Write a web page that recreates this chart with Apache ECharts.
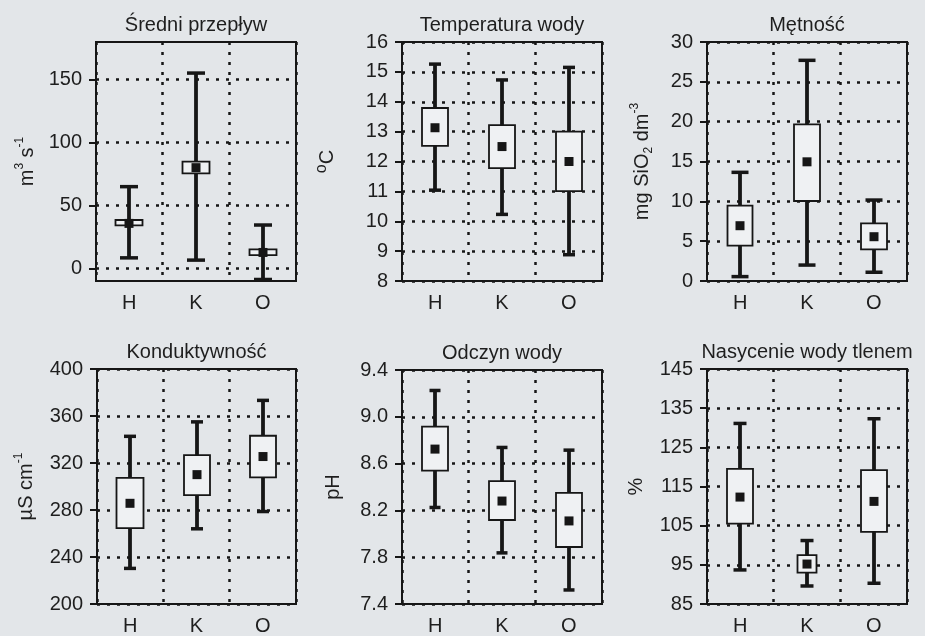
<!DOCTYPE html>
<html>
<head>
<meta charset="utf-8">
<script src="https://cdn.jsdelivr.net/npm/echarts@6/dist/echarts.min.js"></script>
<style>
  html, body { margin: 0; padding: 0; background: #e3e6e9; }
  #chart { width: 925px; height: 636px; }
</style>
</head>
<body>
<div id="chart"></div>
<script>
// Sampling stations
const stations = ['H', 'K', 'O'];

// Per station: [whisker low, box low, mean, box high, whisker high]
const flow         = [[8.4, 34.2, 35.8, 38.5, 65.0], [6.6, 75.6, 80.1, 84.9, 155.3], [-8.8, 10.6, 12.7, 15.1, 34.5]];
const temperature  = [[11.04, 12.52, 13.13, 13.79, 15.26], [10.23, 11.78, 12.50, 13.22, 14.73], [8.88, 11.01, 12.00, 13.00, 15.15]];
const turbidity    = [[0.55, 4.44, 6.94, 9.45, 13.64], [2.0, 10.04, 14.96, 19.65, 27.7], [1.1, 3.98, 5.56, 7.24, 10.16]];
const conductivity = [[230.3, 264.6, 285.7, 307.3, 342.7], [264.0, 292.7, 310.1, 326.7, 355.0], [278.7, 307.8, 325.5, 343.2, 373.3]];
const ph           = [[8.225, 8.54, 8.724, 8.916, 9.225], [7.837, 8.118, 8.28, 8.45, 8.738], [7.52, 7.887, 8.11, 8.35, 8.715]];
const oxygen       = [[93.7, 105.5, 112.3, 119.5, 131.1], [89.6, 93.0, 95.2, 97.5, 101.2], [90.3, 103.4, 111.2, 119.2, 132.3]];

// Panel titles
const titles = ['Średni przepływ', 'Temperatura wody', 'Mętność', 'Konduktywność', 'Odczyn wody', 'Nasycenie wody tlenem'];

// Value-axis ranges and tick labels
const flowRange = [-10, 180],  flowTicks = [0, 50, 100, 150];
const tempRange = [8, 16],     tempTicks = [8, 9, 10, 11, 12, 13, 14, 15, 16];
const turbRange = [0, 30],     turbTicks = [0, 5, 10, 15, 20, 25, 30];
const condRange = [200, 400],  condTicks = [200, 240, 280, 320, 360, 400];
const phRange   = [7.4, 9.4],  phTicks   = [7.4, 7.8, 8.2, 8.6, 9.0, 9.4];
const oxyRange  = [85, 145],   oxyTicks  = [85, 95, 105, 115, 125, 135, 145];

const FONT = "'Liberation Sans', Arial, Helvetica, sans-serif";
const INK = '#161616';
const TEXT = '#1e1e1e';

// Layout and styling of each panel (cap = half width of whisker ends, box = half widths of boxes)
const panels = [
  { data: flow,         range: flowRange, ticks: flowTicks, dec: 0,
    name: '{t|m}{s|3}{t| s}{s|-1}', gap: 56, grid: { left: 96, top: 42, width: 200, height: 239 }, cap: 9, box: [13.5, 13.5, 13.5] },
  { data: temperature,  range: tempRange, ticks: tempTicks, dec: 0,
    name: '{d|o}{t|C}', gap: 62, grid: { left: 402, top: 42, width: 200, height: 239 }, cap: 6, box: [13, 13, 13] },
  { data: turbidity,    range: turbRange, ticks: turbTicks, dec: 0,
    name: '{t|mg SiO}{b|2}{t| dm}{s|-3}', gap: 52, grid: { left: 707, top: 42, width: 200, height: 239 }, cap: 8.5, box: [12.5, 13, 13] },
  { data: conductivity, range: condRange, ticks: condTicks, dec: 0,
    name: '{t|µS cm}{s|-1}', gap: 58, grid: { left: 97, top: 369, width: 199, height: 237 }, cap: 6, box: [13.5, 13, 13] },
  { data: ph,           range: phRange,   ticks: phTicks,   dec: 1,
    name: '{t|pH}', gap: 56, grid: { left: 402, top: 370, width: 200, height: 237 }, cap: 5.5, box: [13, 13, 13] },
  { data: oxygen,       range: oxyRange,  ticks: oxyTicks,  dec: 0,
    name: '{t|%}', gap: 58, grid: { left: 707, top: 369, width: 200, height: 237 }, cap: 6.5, box: [13, 9.5, 13] }
];

const dotted = { color: INK, width: 2.5, type: [3, 7] };

function renderBox(capHalf, boxHalves) {
  return function (params, api) {
    const i = api.value(0);
    const lo = api.coord([i, api.value(1)]);
    const q1 = api.coord([i, api.value(2)]);
    const mean = api.coord([i, api.value(3)]);
    const q3 = api.coord([i, api.value(4)]);
    const hi = api.coord([i, api.value(5)]);
    const cx = Math.round(lo[0]);
    const boxHalf = boxHalves[params.dataIndex];
    const m = 4.5;
    return {
      type: 'group',
      children: [
        { type: 'line', shape: { x1: cx, y1: hi[1], x2: cx, y2: lo[1] }, style: { stroke: INK, lineWidth: 3.8 } },
        { type: 'line', shape: { x1: cx - capHalf, y1: hi[1], x2: cx + capHalf, y2: hi[1] }, style: { stroke: INK, lineWidth: 3.5 } },
        { type: 'line', shape: { x1: cx - capHalf, y1: lo[1], x2: cx + capHalf, y2: lo[1] }, style: { stroke: INK, lineWidth: 3.5 } },
        { type: 'rect', shape: { x: cx - boxHalf, y: q3[1], width: boxHalf * 2, height: q1[1] - q3[1] },
          style: { fill: '#eff1f3', stroke: INK, lineWidth: 1.8 } },
        { type: 'rect', shape: { x: cx - m, y: mean[1] - m, width: m * 2, height: m * 2 }, style: { fill: INK } }
      ]
    };
  };
}

const option = {
  backgroundColor: '#e3e6e9',
  animation: false,
  textStyle: { fontFamily: FONT },
  title: panels.map((p, k) => ({
    text: titles[k],
    left: p.grid.left + p.grid.width / 2,
    top: p.grid.top - 27,
    textAlign: 'center',
    padding: 0,
    textStyle: { fontFamily: FONT, fontSize: 20, fontWeight: 'normal', color: TEXT }
  })),
  grid: panels.map(p => Object.assign({ show: true, borderColor: INK, borderWidth: 2, backgroundColor: 'transparent' }, p.grid)),
  xAxis: panels.map((p, k) => ({
    type: 'category',
    gridIndex: k,
    data: stations,
    boundaryGap: true,
    axisLine: { show: true, onZero: false, lineStyle: { color: INK, width: 2 } },
    axisTick: { show: false },
    axisLabel: { color: TEXT, fontSize: 20, fontFamily: FONT, margin: 12 },
    splitLine: { show: true, interval: 0, lineStyle: dotted }
  })),
  yAxis: panels.map((p, k) => ({
    type: 'value',
    gridIndex: k,
    min: p.range[0],
    max: p.range[1],
    name: p.name,
    nameLocation: 'middle',
    nameRotate: 90,
    nameGap: p.gap,
    nameTextStyle: {
      color: TEXT, fontFamily: FONT,
      rich: {
        t: { fontSize: 20, fontFamily: FONT, color: TEXT, lineHeight: 26 },
        s: { fontSize: 12, fontFamily: FONT, color: TEXT, verticalAlign: 'top', lineHeight: 26 },
        d: { fontSize: 16, fontFamily: FONT, color: TEXT, verticalAlign: 'top', lineHeight: 26 },
        b: { fontSize: 12, fontFamily: FONT, color: TEXT, verticalAlign: 'bottom', lineHeight: 26 }
      }
    },
    axisLine: { show: true, onZero: false, lineStyle: { color: INK, width: 2 } },
    axisTick: { show: true, length: 7, inside: false, customValues: p.ticks, lineStyle: { color: INK, width: 2 } },
    axisLabel: {
      customValues: p.ticks,
      color: TEXT, fontSize: 20, fontFamily: FONT, margin: 14,
      formatter: v => Number(v).toFixed(p.dec)
    },
    splitLine: { show: true, lineStyle: dotted }
  })),
  series: panels.map((p, k) => ({
    type: 'custom',
    xAxisIndex: k,
    yAxisIndex: k,
    clip: true,
    renderItem: renderBox(p.cap, p.box),
    encode: { x: 0, y: [1, 2, 3, 4, 5] },
    data: p.data.map((d, i) => [i].concat(d))
  }))
};

const chart = echarts.init(document.getElementById('chart'), null, { renderer: 'canvas' });
chart.setOption(option);
</script>
</body>
</html>
